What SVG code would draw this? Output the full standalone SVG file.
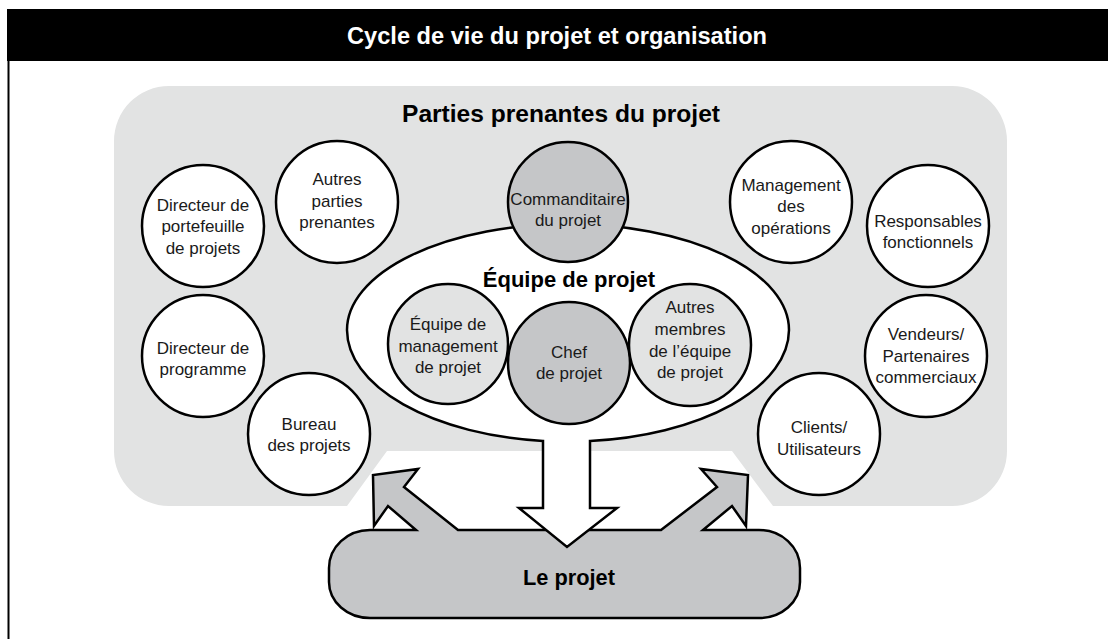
<svg xmlns="http://www.w3.org/2000/svg" width="1108" height="639" viewBox="0 0 1108 639">
<style>
.node{stroke:#000;stroke-width:2.5}
.w{fill:#fff}
.lg{fill:#e2e3e3}
.dg{fill:#c5c6c8}
.t{font-family:"Liberation Sans",Arial,sans-serif;font-size:17px;fill:#1a1a1a;text-anchor:middle}
.h{font-family:"Liberation Sans",Arial,sans-serif;font-weight:bold;fill:#000;text-anchor:middle}
.c{font-family:"Liberation Sans Narrow","Liberation Sans",Arial,sans-serif;font-weight:bold;text-anchor:middle}
</style>
<rect width="1108" height="639" fill="#fff"/>
<!-- frame -->
<g id="frame">
<line x1="8.5" y1="9" x2="8.5" y2="639" stroke="#000" stroke-width="2"/>
<rect x="7" y="9" width="1101" height="52" fill="#000"/>
<text class="c" x="557" y="44" font-size="23" fill="#fff" textLength="420" lengthAdjust="spacingAndGlyphs">Cycle de vie du projet et organisation</text>
</g>
<!-- stakeholder background -->
<g id="stakeholders-area">
<path class="lg" d="M169,86 H952 A55,55 0 0 1 1007,141 V451 A55,55 0 0 1 952,506 H773 L732,451 H387 L347,506 H169 A55,55 0 0 1 114,451 V141 A55,55 0 0 1 169,86 Z"/>
<text class="h" x="561" y="122" font-size="24" textLength="318" lengthAdjust="spacingAndGlyphs">Parties prenantes du projet</text>
</g>
<!-- connectors: project pill with arrows -->
<g id="connectors">
<path class="dg" stroke="#000" stroke-width="2.5" stroke-linejoin="miter" d="M370,530 L416,530 L388,506 L374,526 L373,475 L418,469 L404,487 L458,530 L661,530 L717,487 L701,469 L748,475 L746,526 L732,506 L703,530 L759,530 A41,38 0 0 1 800,568 L800,582 A41,36 0 0 1 759,618 L370,618 A41,36 0 0 1 329,582 L329,568 A41,38 0 0 1 370,530 Z"/>
<path class="w" stroke="#000" stroke-width="2.5" d="M590,441 L590,508 L617,508 L567,547 L519,508 L543,508 L543,441 A221,112 0 0 1 347,330 A221,106 0 0 1 789,330 A221,112 0 0 1 590,441 Z"/>
</g>
<g id="projet">
<text class="c" x="569" y="585" font-size="22" fill="#000" textLength="92" lengthAdjust="spacingAndGlyphs">Le projet</text>
</g>
<g id="equipe-label">
<text class="h" x="569" y="287" font-size="22">Équipe de projet</text>
</g>
<!-- stakeholder nodes -->
<g id="dir-portefeuille">
<circle class="node w" cx="203" cy="226" r="61"/>
<text class="t" x="203" y="211">Directeur de</text>
<text class="t" x="203" y="232">portefeuille</text>
<text class="t" x="203" y="254">de projets</text>
</g>
<g id="autres-parties">
<circle class="node w" cx="337" cy="202" r="61"/>
<text class="t" x="337" y="185">Autres</text>
<text class="t" x="337" y="207">parties</text>
<text class="t" x="337" y="228">prenantes</text>
</g>
<g id="dir-programme">
<circle class="node w" cx="203" cy="356" r="61"/>
<text class="t" x="203" y="354">Directeur de</text>
<text class="t" x="203" y="375">programme</text>
</g>
<g id="bureau">
<circle class="node w" cx="309" cy="434" r="61"/>
<text class="t" x="309" y="430">Bureau</text>
<text class="t" x="309" y="451">des projets</text>
</g>
<g id="management-ops">
<circle class="node w" cx="791" cy="202" r="61"/>
<text class="t" x="791" y="191">Management</text>
<text class="t" x="791" y="212">des</text>
<text class="t" x="791" y="234">opérations</text>
</g>
<g id="responsables">
<circle class="node w" cx="928" cy="226" r="61"/>
<text class="t" x="928" y="227">Responsables</text>
<text class="t" x="928" y="248">fonctionnels</text>
</g>
<g id="vendeurs">
<circle class="node w" cx="926" cy="356" r="61"/>
<text class="t" x="926" y="340">Vendeurs/</text>
<text class="t" x="926" y="362">Partenaires</text>
<text class="t" x="926" y="383">commerciaux</text>
</g>
<g id="clients">
<circle class="node w" cx="819" cy="434" r="61"/>
<text class="t" x="819" y="433">Clients/</text>
<text class="t" x="819" y="455">Utilisateurs</text>
</g>
<g id="commanditaire">
<circle class="node dg" cx="568" cy="202" r="60"/>
<text class="t" x="568" y="205">Commanditaire</text>
<text class="t" x="568" y="226">du projet</text>
</g>
<!-- team nodes -->
<g id="equipe-management">
<circle class="node lg" cx="448" cy="344" r="60"/>
<text class="t" x="448" y="330">Équipe de</text>
<text class="t" x="448" y="352">management</text>
<text class="t" x="448" y="373">de projet</text>
</g>
<g id="chef">
<circle class="node dg" cx="569" cy="363" r="61"/>
<text class="t" x="569" y="358">Chef</text>
<text class="t" x="569" y="379">de projet</text>
</g>
<g id="autres-membres">
<circle class="node lg" cx="690" cy="345" r="61"/>
<text class="t" x="690" y="313">Autres</text>
<text class="t" x="690" y="335">membres</text>
<text class="t" x="690" y="357">de l’équipe</text>
<text class="t" x="690" y="378">de projet</text>
</g>
</svg>
